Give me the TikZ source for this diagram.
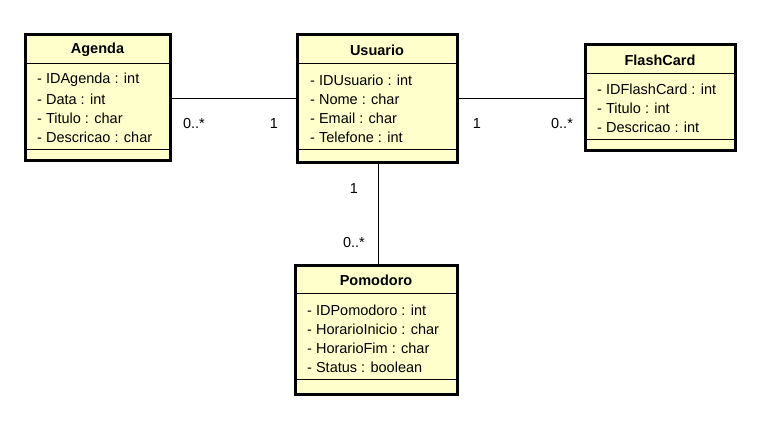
\documentclass[tikz,border=0pt]{standalone}
\usepackage{fontspec}
\setmainfont{Liberation Sans}
\definecolor{classfill}{HTML}{FFFFCC}
\tikzset{
  classbox/.style={draw=black, line width=3pt, fill=classfill, inner sep=0pt, outer sep=0pt},
  sepline/.style={draw=black, line width=0.9pt},
  title/.style={font=\fontsize{14.5}{18}\selectfont\bfseries, inner sep=0pt},
  attr/.style={font=\fontsize{14.5}{18}\selectfont, anchor=west, inner sep=0pt},
  mult/.style={font=\fontsize{14.5}{18}\selectfont, inner sep=0pt},
  assoc/.style={draw=black, line width=0.9pt}
}
\begin{document}
\begin{tikzpicture}[x=1pt,y=-1pt]
\useasboundingbox (0,0) rectangle (762,430);
% Agenda
\node[classbox, minimum width=145pt, minimum height=126pt] (agenda) at (97.5,98) {};
\draw[sepline] (25,63) -- (170,63);
\draw[sepline] (25,149) -- (170,149);
\node[title] (agendaT) at (97.5,50) {Agenda};
\node[attr] (a1) at (37,80) {- IDAgenda : int};
\node[attr] (a2) at (37,99) {- Data : int};
\node[attr] (a3) at (37,118) {- Titulo : char};
\node[attr] (a4) at (37,137) {- Descricao : char};
% Usuario
\node[classbox, minimum width=160pt, minimum height=128pt] (usuario) at (377,99) {};
\draw[sepline] (297,63) -- (457,63);
\draw[sepline] (297,149) -- (457,149);
\node[title] (usuarioT) at (377,50) {Usuario};
\node[attr] (u1) at (310,80) {- IDUsuario : int};
\node[attr] (u2) at (310,99) {- Nome : char};
\node[attr] (u3) at (310,118) {- Email : char};
\node[attr] (u4) at (310,137) {- Telefone : int};
% FlashCard
\node[classbox, minimum width=150pt, minimum height=106pt] (flash) at (660,98) {};
\draw[sepline] (585,73) -- (735,73);
\draw[sepline] (585,139) -- (735,139);
\node[title] (flashT) at (660,60) {FlashCard};
\node[attr] (f1) at (597,89) {- IDFlashCard : int};
\node[attr] (f2) at (597,108) {- Titulo : int};
\node[attr] (f3) at (597,127) {- Descricao : int};
% Pomodoro
\node[classbox, minimum width=162pt, minimum height=129pt] (pomo) at (376,329.5) {};
\draw[sepline] (295,293) -- (457,293);
\draw[sepline] (295,379) -- (457,379);
\node[title] (pomoT) at (376,280) {Pomodoro};
\node[attr] (p1) at (307,310) {- IDPomodoro : int};
\node[attr] (p2) at (307,329) {- HorarioInicio : char};
\node[attr] (p3) at (307,348) {- HorarioFim : char};
\node[attr] (p4) at (307,367) {- Status : boolean};
% associations
\draw[assoc] (agenda.east |- 0,98) -- (usuario.west |- 0,98);
\draw[assoc] (usuario.east |- 0,98) -- (flash.west |- 0,98);
\draw[assoc] (378,0 |- usuario.south) -- (378,0 |- pomo.north);
% multiplicities
\node[mult] (m1) at (194,124) {0..*};
\node[mult] (m2) at (274,124) {1};
\node[mult] (m3) at (477,124) {1};
\node[mult] (m4) at (562,124) {0..*};
\node[mult] (m5) at (354,189) {1};
\node[mult] (m6) at (354,243) {0..*};
\end{tikzpicture}
\end{document}
